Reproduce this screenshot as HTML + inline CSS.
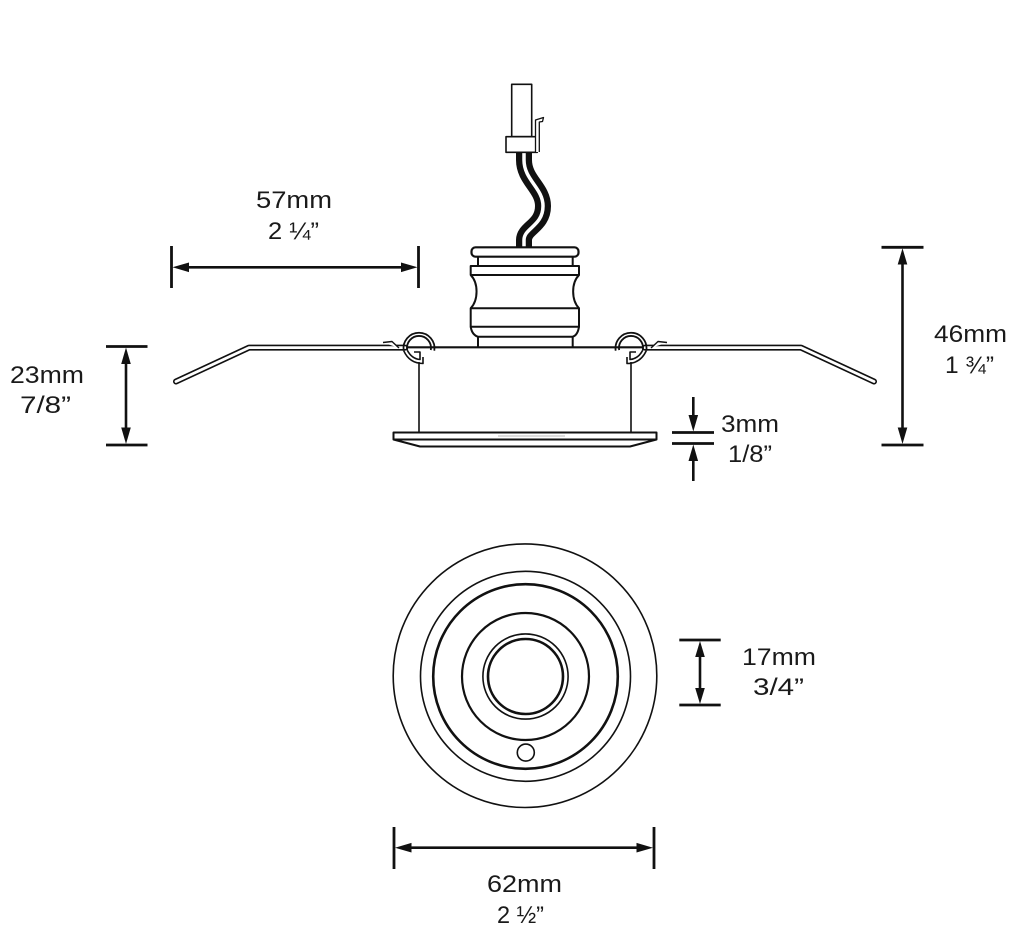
<!DOCTYPE html>
<html>
<head>
<meta charset="utf-8">
<style>
  html,body{margin:0;padding:0;background:#fff;}
  svg{display:block;}
  text{font-family:"Liberation Sans", Arial, sans-serif;font-size:24px;fill:#1a1a1a;}
</style>
</head>
<body>
<svg width="1031" height="937" viewBox="0 0 1031 937" xmlns="http://www.w3.org/2000/svg">
  <rect x="0" y="0" width="1031" height="937" fill="#fff"/>

  <!-- ===================== SIDE VIEW ===================== -->
  <g fill="none" stroke="#111" stroke-linejoin="round">
    <!-- wires -->
    <path d="M524,150 L524,160 C524,180 543,188 543,206 C543,226 524,228 524,240 L524,249" stroke="#111" stroke-width="16"/>
    <path d="M524,150 L524,160 C524,180 543,188 543,206 C543,226 524,228 524,240 L524,249" stroke="#fff" stroke-width="3.5"/>

    <!-- connector -->
    <rect x="511.7" y="84.3" width="20" height="52.4" fill="#fff" stroke-width="1.6"/>
    <rect x="506" y="136.7" width="31.3" height="15.6" fill="#fff" stroke-width="1.6"/>
    <path d="M535.5,152 L535.5,120 L543.5,117.5 L542.5,121.5 L539.3,122 L539.3,152" fill="#fff" stroke-width="1.3"/>

    <!-- lamp holder body -->
    <rect x="478" y="256.5" width="94.7" height="9.5" fill="#fff" stroke-width="2"/>
    <rect x="471.5" y="247.3" width="107" height="9.4" rx="4" fill="#fff" stroke-width="2.2"/>
    <rect x="470.7" y="266" width="108.3" height="9" fill="#fff" stroke-width="2"/>
    <path d="M470.7,275 C478.5,283 478.5,300 470.7,308.3" stroke-width="2"/>
    <path d="M579,275 C571.2,283 571.2,300 579,308.3" stroke-width="2"/>
    <rect x="470.7" y="308.3" width="108.3" height="18.4" fill="#fff" stroke-width="2"/>
    <path d="M470.7,326.7 C471.5,332 474,335.5 478,336.7 L572.7,336.7 C576.7,335.5 578.2,332 579,326.7" stroke-width="2"/>
    <path d="M478,336.7 L478,347 M572.7,336.7 L572.7,347" stroke-width="2"/>

    <!-- housing top line -->
    <path d="M400,347.3 L650,347.3" stroke-width="2.2"/>

    <!-- housing sides -->
    <path d="M419,362 L419,432.5 M631,362 L631,432.5" stroke-width="1.6"/>

    <!-- flange -->
    <rect x="393.5" y="432.5" width="263" height="7" fill="#fff" stroke-width="2"/>
    <path d="M393.5,439.5 L420,446.5 L630,446.5 L656.5,439.5" stroke-width="2"/>
    <path d="M498,436 L565,436" stroke="#bbb" stroke-width="1"/>
  </g>

  <!-- spring arms + clips (left), mirrored for right -->
  <g fill="none" stroke="#111" stroke-linejoin="round">
    <path d="M176,381.5 L249,347.6 L405,347.6" stroke-width="6" stroke-linecap="round"/>
    <path d="M176,381.5 L249,347.6 L405,347.6" stroke="#fff" stroke-width="2.8" stroke-linecap="round"/>
    <path d="M383,342.5 L392,341.5 L399,348" stroke-width="1.4" fill="#fff"/>
    <path d="M403.7,350.7 A15.5,15.5 0 1 1 434.3,350.7" stroke-width="1.8"/>
    <path d="M407.2,350.1 A12,12 0 1 1 430.8,350.1" stroke-width="1.8"/>
    <path d="M403.7,350.7 C407,358 413,363.5 423,363.5 L423,357" stroke-width="1.6"/>
    <path d="M407.2,350.1 C410,355.5 414,359 420,359.5 L420,352 L414,352" stroke-width="1.6" fill="#fff"/>
  </g>
  <g transform="translate(1050,0) scale(-1,1)" fill="none" stroke="#111" stroke-linejoin="round">
    <path d="M176,381.5 L249,347.6 L405,347.6" stroke-width="6" stroke-linecap="round"/>
    <path d="M176,381.5 L249,347.6 L405,347.6" stroke="#fff" stroke-width="2.8" stroke-linecap="round"/>
    <path d="M383,342.5 L392,341.5 L399,348" stroke-width="1.4" fill="#fff"/>
    <path d="M403.7,350.7 A15.5,15.5 0 1 1 434.3,350.7" stroke-width="1.8"/>
    <path d="M407.2,350.1 A12,12 0 1 1 430.8,350.1" stroke-width="1.8"/>
    <path d="M403.7,350.7 C407,358 413,363.5 423,363.5 L423,357" stroke-width="1.6"/>
    <path d="M407.2,350.1 C410,355.5 414,359 420,359.5 L420,352 L414,352" stroke-width="1.6" fill="#fff"/>
  </g>

  <!-- ===================== FRONT VIEW ===================== -->
  <g fill="none" stroke="#111">
    <circle cx="525" cy="675.7" r="131.8" stroke-width="1.6"/>
    <circle cx="525.5" cy="676.3" r="105" stroke-width="1.6"/>
    <circle cx="525.5" cy="676.5" r="92.3" stroke-width="2.6"/>
    <circle cx="525.5" cy="676.5" r="63.5" stroke-width="2.2"/>
    <circle cx="525.5" cy="676.5" r="42.6" stroke-width="1.6"/>
    <circle cx="525.5" cy="676.5" r="37.5" stroke-width="2.6"/>
    <circle cx="525.8" cy="752.6" r="8.5" stroke-width="1.6"/>
  </g>

  <!-- ===================== DIMENSIONS ===================== -->
  <g stroke="#111" fill="none">
    <path d="M171.5,246 L171.5,288 M418.5,246 L418.5,288" stroke-width="2.8"/>
    <path d="M180,267.3 L410,267.3" stroke-width="2.6"/>
    <path d="M106,346.5 L147.5,346.5 M106,445 L147.5,445" stroke-width="2.8"/>
    <path d="M126,356 L126,436" stroke-width="2.6"/>
    <path d="M881.5,247.3 L923.5,247.3 M881.5,445 L923.5,445" stroke-width="2.8"/>
    <path d="M902.5,256 L902.5,436" stroke-width="2.6"/>
    <path d="M672,432.5 L714,432.5 M672,443.5 L714,443.5" stroke-width="2.8"/>
    <path d="M693.3,397 L693.3,422 M693.3,454 L693.3,481" stroke-width="2.6"/>
    <path d="M679.3,640 L720.7,640 M679.3,705 L720.7,705" stroke-width="2.8"/>
    <path d="M700,650 L700,695" stroke-width="2.6"/>
    <path d="M394,827 L394,869 M654,827 L654,869" stroke-width="2.8"/>
    <path d="M403,847.7 L645,847.7" stroke-width="2.6"/>
  </g>
  <g fill="#111" stroke="none">
    <polygon points="172.5,267.3 189,262.5 189,272.1"/>
    <polygon points="417.5,267.3 401,262.5 401,272.1"/>
    <polygon points="126,347.5 121.2,364 130.8,364"/>
    <polygon points="126,444 121.2,427.5 130.8,427.5"/>
    <polygon points="902.5,248.3 897.7,264.5 907.3,264.5"/>
    <polygon points="902.5,444 897.7,427.5 907.3,427.5"/>
    <polygon points="693.3,431.5 688.5,415 698.1,415"/>
    <polygon points="693.3,444.5 688.5,461 698.1,461"/>
    <polygon points="700,641 695.2,657 704.8,657"/>
    <polygon points="700,704 695.2,688 704.8,688"/>
    <polygon points="395,847.7 411.5,842.9 411.5,852.5"/>
    <polygon points="653,847.7 636.5,842.9 636.5,852.5"/>
  </g>

  <!-- labels -->
  <text x="256" y="208" textLength="76" lengthAdjust="spacingAndGlyphs">57mm</text>
  <text x="268" y="239" textLength="51" lengthAdjust="spacingAndGlyphs">2 ¼”</text>

  <text x="10" y="383" textLength="74" lengthAdjust="spacingAndGlyphs">23mm</text>
  <text x="20" y="413" textLength="51" lengthAdjust="spacingAndGlyphs">7/8”</text>

  <text x="934" y="342" textLength="73" lengthAdjust="spacingAndGlyphs">46mm</text>
  <text x="945" y="373" textLength="49" lengthAdjust="spacingAndGlyphs">1 ¾”</text>

  <text x="721" y="432" textLength="58" lengthAdjust="spacingAndGlyphs">3mm</text>
  <text x="728" y="462" textLength="44" lengthAdjust="spacingAndGlyphs">1/8”</text>

  <text x="742" y="665" textLength="74" lengthAdjust="spacingAndGlyphs">17mm</text>
  <text x="753" y="695" textLength="51" lengthAdjust="spacingAndGlyphs">3/4”</text>

  <text x="487" y="892" textLength="75" lengthAdjust="spacingAndGlyphs">62mm</text>
  <text x="497" y="923" textLength="47" lengthAdjust="spacingAndGlyphs">2 ½”</text>
</svg>
</body>
</html>
